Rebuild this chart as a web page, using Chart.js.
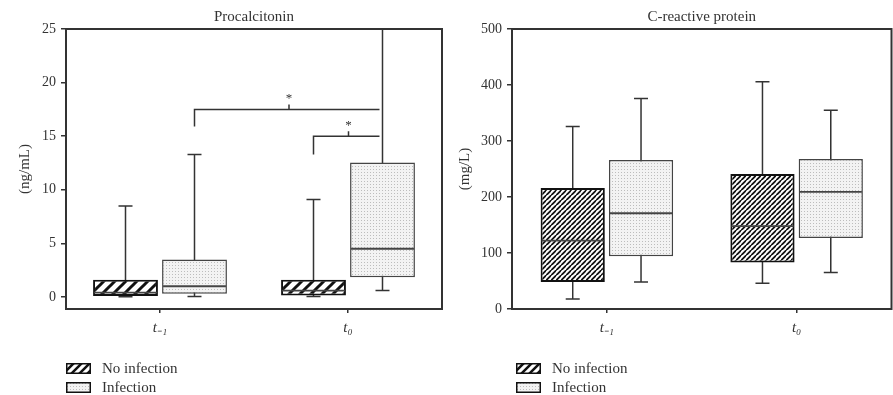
<!DOCTYPE html>
<html><head><meta charset="utf-8">
<script src="https://cdn.jsdelivr.net/npm/chart.js@4.4.1/dist/chart.umd.min.js"></script>
<style>
html,body{margin:0;padding:0;background:#fff;width:893px;height:395px;overflow:hidden;font-family:"Liberation Serif",serif;}
.wrap{position:absolute;top:0;height:345px;}
.legend{position:absolute;top:359px;font-size:15px;color:#333;}
.row{display:flex;align-items:center;height:19px;}
.row canvas{margin-right:11px;display:block}
</style></head><body>
<div class="wrap" style="left:0;width:446px"><canvas id="c1" width="446" height="345"></canvas></div>
<div class="wrap" style="left:446px;width:447px"><canvas id="c2" width="447" height="345"></canvas></div>
<div class="legend" id="lg1" style="left:66px"></div>
<div class="legend" id="lg2" style="left:516px"></div>
<script>
// ---------- data ----------
const categories = ['t\u208B\u2081', 't\u2080'];
const seriesNames = ['No infection', 'Infection'];
// five-number summaries per category: [min, q1, median, q3, max]
const pctNoInfection = [[0.02, 0.1, 0.4, 1.6, 8.5], [0.05, 0.15, 0.6, 1.6, 9.1]];
const pctInfection   = [[0.05, 0.3, 1.0, 3.5, 13.3], [0.6, 1.85, 4.5, 12.55, 30]];
const crpNoInfection = [[18, 48, 122, 216, 326], [46, 83, 148, 241, 406]];
const crpInfection   = [[48, 94, 171, 266, 376], [65, 127, 209, 268, 355]];
const pctTicks = [0, 5, 10, 15, 20, 25];
const crpTicks = [0, 100, 200, 300, 400, 500];
// significance brackets: [fromCategory, fromSeries, toCategory, toSeries, legStart, level]
const pctBrackets = [[0, 1, 1, 1, 15.9, 17.5], [1, 0, 1, 1, 13.3, 15.0]];
const bracketLabels = ['*', '*'];

const FONT = '"Liberation Serif", "Times New Roman", serif';
const INK = '#333';

function hatch(s, lw) {
  const c = document.createElement('canvas'); c.width = c.height = s;
  const x = c.getContext('2d');
  x.fillStyle = '#fff'; x.fillRect(0, 0, s, s);
  x.strokeStyle = '#111'; x.lineWidth = lw;
  x.beginPath();
  x.moveTo(0, s); x.lineTo(s, 0);
  x.moveTo(-s / 2, s / 2); x.lineTo(s / 2, -s / 2);
  x.moveTo(s / 2, s * 1.5); x.lineTo(s * 1.5, s / 2);
  x.stroke();
  return c;
}
function dots() {
  const c = document.createElement('canvas'); c.width = c.height = 3;
  const x = c.getContext('2d');
  x.fillStyle = '#f3f3f3'; x.fillRect(0, 0, 3, 3);
  x.fillStyle = '#bdbdbd'; x.fillRect(1, 1, 1, 1);
  return c;
}
const tmp = document.createElement('canvas').getContext('2d');
const hatchWide = tmp.createPattern(hatch(11, 3), 'repeat');
const hatchTight = tmp.createPattern(hatch(5.5, 1.8), 'repeat');
const dotFill = tmp.createPattern(dots(), 'repeat');

const boxPlugin = {
  id: 'boxwhisk',
  beforeDatasetsDraw(chart, args, o) {
    const ctx = chart.ctx, a = chart.chartArea, y = chart.scales.y;
    ctx.save();
    ctx.strokeStyle = INK; ctx.lineWidth = 2;
    ctx.strokeRect(a.left, a.top, a.right - a.left, a.bottom - a.top);
    ctx.beginPath(); ctx.rect(a.left, a.top, a.right - a.left, a.bottom - a.top); ctx.clip();
    ctx.lineWidth = 1.5; ctx.strokeStyle = INK;
    o.stats.forEach((st, i) => {
      const meta = chart.getDatasetMeta(i);
      st.forEach((s, j) => {
        const b = meta.data[j];
        const yMin = y.getPixelForValue(s[0]), yMax = y.getPixelForValue(s[4]);
        ctx.beginPath();
        ctx.moveTo(b.x, yMin); ctx.lineTo(b.x, yMax);
        ctx.moveTo(b.x - o.cap / 2, yMin); ctx.lineTo(b.x + o.cap / 2, yMin);
        ctx.moveTo(b.x - o.cap / 2, yMax); ctx.lineTo(b.x + o.cap / 2, yMax);
        ctx.stroke();
      });
    });
    ctx.restore();
  },
  afterDatasetsDraw(chart, args, o) {
    const ctx = chart.ctx, y = chart.scales.y;
    ctx.save();
    ctx.strokeStyle = '#444'; ctx.lineWidth = 1.8;
    o.stats.forEach((st, i) => {
      const meta = chart.getDatasetMeta(i);
      st.forEach((s, j) => {
        const b = meta.data[j];
        const ym = y.getPixelForValue(s[2]);
        ctx.beginPath(); ctx.moveTo(b.x - b.width / 2 + 1, ym); ctx.lineTo(b.x + b.width / 2 - 1, ym); ctx.stroke();
      });
    });
    (o.brackets || []).forEach((br, k) => {
      const x1 = chart.getDatasetMeta(br[1]).data[br[0]].x;
      const x2 = chart.getDatasetMeta(br[3]).data[br[2]].x - 3;
      const y0 = y.getPixelForValue(br[4]), yl = y.getPixelForValue(br[5]);
      const xm = (x1 + x2) / 2 + 2;
      ctx.strokeStyle = INK; ctx.lineWidth = 1.5;
      ctx.beginPath();
      ctx.moveTo(x1, y0); ctx.lineTo(x1, yl); ctx.lineTo(x2, yl);
      ctx.moveTo(xm, yl); ctx.lineTo(xm, yl - 5);
      ctx.stroke();
      ctx.fillStyle = INK; ctx.font = '13px ' + FONT;
      ctx.textAlign = 'center'; ctx.textBaseline = 'middle';
      ctx.fillText(o.labels[k], xm, yl - 11);
    });
    ctx.restore();
  }
};

function makeChart(id, c) {
  return new Chart(document.getElementById(id), {
    type: 'bar',
    data: {
      labels: categories,
      datasets: [
        { label: seriesNames[0], data: c.no.map(s => [s[1], s[3]]), backgroundColor: c.hatch,
          borderColor: '#111', borderWidth: 2, borderSkipped: false,
          categoryPercentage: c.catPct, barPercentage: 0.94 },
        { label: seriesNames[1], data: c.inf.map(s => [s[1], s[3]]), backgroundColor: dotFill,
          borderColor: '#444', borderWidth: 1.5, borderSkipped: false,
          categoryPercentage: c.catPct, barPercentage: 0.94 }
      ]
    },
    options: {
      responsive: false, animation: false, events: [],
      layout: { padding: { left: 0, right: c.padRight, top: 0, bottom: 0 } },
      plugins: {
        legend: { display: false }, tooltip: { enabled: false },
        title: { display: true, fullSize: false, text: c.title, color: INK,
          font: { family: FONT, size: 15, weight: 'normal', lineHeight: 1.2 },
          padding: { top: 8, bottom: 3 } },
        boxwhisk: { stats: [c.no, c.inf], cap: 14, brackets: c.brackets, labels: bracketLabels }
      },
      scales: {
        x: { type: 'category', offset: true,
          grid: { offset: false, drawOnChartArea: false, tickLength: 4, color: INK, lineWidth: 1.5 },
          border: { display: false },
          ticks: { font: { family: FONT, size: 15, style: 'italic' }, color: INK, padding: 6 },
          afterFit(s) { s.height = 36; } },
        y: { min: c.min, max: c.max,
          afterBuildTicks(s) { s.ticks = c.ticks.map(v => ({ value: v })); },
          grid: { drawOnChartArea: false, tickLength: 5, color: INK, lineWidth: 1.5 },
          border: { display: false },
          ticks: { font: { family: FONT, size: 14 }, color: INK, padding: 5 },
          title: { display: true, text: c.yTitle, color: INK, font: { family: FONT, size: 15 },
            padding: { top: c.yTitlePad, bottom: 0 } },
          afterFit(s) { s.width = 66; } }
      }
    },
    plugins: [boxPlugin]
  });
}

makeChart('c1', { title: 'Procalcitonin', yTitle: '(ng/mL)', no: pctNoInfection, inf: pctInfection,
  ticks: pctTicks, min: -1.12, max: 25, hatch: hatchWide, catPct: 0.734, padRight: 4, brackets: pctBrackets, yTitlePad: 16 });
makeChart('c2', { title: 'C-reactive protein', yTitle: '(mg/L)', no: crpNoInfection, inf: crpInfection,
  ticks: crpTicks, min: 0, max: 500, hatch: hatchTight, catPct: 0.72, padRight: 1.5, brackets: [], yTitlePad: 10 });

function legend(id) {
  const el = document.getElementById(id);
  seriesNames.forEach((name, i) => {
    const row = document.createElement('div'); row.className = 'row';
    const cv = document.createElement('canvas'); cv.width = 25; cv.height = 11;
    const x = cv.getContext('2d');
    x.fillStyle = i === 0 ? x.createPattern(hatch(8, 2.5), 'repeat') : x.createPattern(dots(), 'repeat');
    x.fillRect(0, 0, 25, 11);
    x.strokeStyle = '#111'; x.lineWidth = 1.5; x.strokeRect(0.75, 0.75, 23.5, 9.5);
    const sp = document.createElement('span'); sp.textContent = name;
    row.appendChild(cv); row.appendChild(sp); el.appendChild(row);
  });
}
legend('lg1'); legend('lg2');
</script>
</body></html>
